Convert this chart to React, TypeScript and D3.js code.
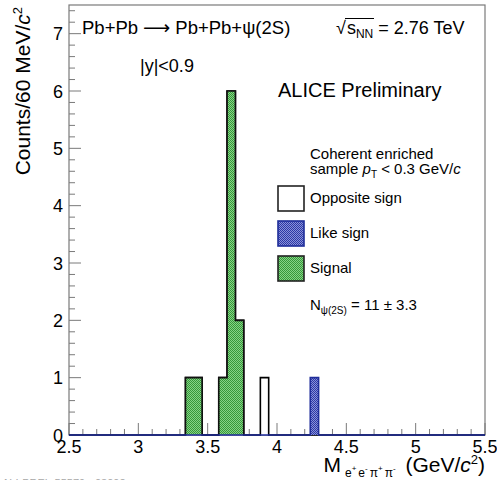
import React from "react";
import * as d3 from "d3";

// ---- data ----
const xDomain = [2.5, 5.5];
const yDomain = [0, 7.5];
const binWidth = 0.06; // 60 MeV/c^2
const oppositeSignBins = [3.34, 3.4, 3.58, 3.64, 3.7, 3.88];
const oppositeSignCounts = [1, 1, 1, 6, 2, 1];
const signalBins = [3.34, 3.4, 3.58, 3.64, 3.7];
const signalCounts = [1, 1, 1, 6, 2];
const likeSignBins = [4.24];
const likeSignCounts = [1];
const xTicks = [2.5, 3, 3.5, 4, 4.5, 5, 5.5];
const yTicks = [0, 1, 2, 3, 4, 5, 6, 7];

const W = 497;
const H = 480;
const M = { left: 69, right: 485, top: 5, bottom: 435 };
const FONT = "'Liberation Sans', Arial, Helvetica, sans-serif";

const x = d3.scaleLinear().domain(xDomain).range([M.left, M.right]);
const y = d3.scaleLinear().domain(yDomain).range([M.bottom, M.top]);

function fullHist(bins: number[], counts: number[], lo: number, hi: number) {
  const n = Math.round((hi - lo) / binWidth);
  const pts: [number, number][] = [];
  for (let i = 0; i < n; i++) {
    const e = lo + i * binWidth;
    const k = bins.findIndex((b) => Math.abs(b - e) < 1e-6);
    pts.push([e, k >= 0 ? counts[k] : 0]);
  }
  pts.push([hi, 0]);
  return pts;
}

const stepLine = d3
  .line<[number, number]>()
  .x((d) => x(d[0]))
  .y((d) => y(d[1]))
  .curve(d3.curveStepAfter);

function histPath(pts: [number, number][]) {
  const withStart: [number, number][] = [[pts[0][0], 0], ...pts];
  return stepLine(withStart) || "";
}

const osHist = fullHist(oppositeSignBins, oppositeSignCounts, xDomain[0], xDomain[1]);
const lsHist = fullHist(likeSignBins, likeSignCounts, xDomain[0], xDomain[1]);
const sigLo = d3.min(signalBins)!;
const sigHi = d3.max(signalBins)! + binWidth;
const sigHist = fullHist(signalBins, signalCounts, sigLo, sigHi);

export default function App() {
  const gray = "#7a7a7a";
  const xMinor = d3.range(25, 56).map((v) => v / 10);
  const yMinor = d3.range(0, 38).map((v) => v / 5);
  return (
    <svg
      width={W}
      height={H}
      style={{ position: "absolute", left: 0, top: 0, background: "#fff" }}
      fontFamily={FONT}
    >
      <defs>
        <pattern id="pg" width="2" height="2" patternUnits="userSpaceOnUse">
          <rect width="2" height="2" fill="#86d486" />
          <rect width="1" height="1" fill="#36973a" />
          <rect x="1" y="1" width="1" height="1" fill="#36973a" />
        </pattern>
        <pattern id="pb" width="2" height="2" patternUnits="userSpaceOnUse">
          <rect width="2" height="2" fill="#8a92d8" />
          <rect width="1" height="1" fill="#2c38a6" />
          <rect x="1" y="1" width="1" height="1" fill="#2c38a6" />
        </pattern>
      </defs>

      {/* frame */}
      <rect
        x={M.left}
        y={M.top}
        width={M.right - M.left}
        height={M.bottom - M.top}
        fill="none"
        stroke={gray}
        strokeWidth={1.2}
      />

      {/* x ticks */}
      {xMinor.map((v, i) => {
        const major = Math.abs(v * 2 - Math.round(v * 2)) < 1e-6;
        return (
          <line
            key={"xm" + i}
            x1={x(v)}
            x2={x(v)}
            y1={M.bottom}
            y2={M.bottom - (major ? 12 : 6)}
            stroke={gray}
            strokeWidth={1}
          />
        );
      })}
      {/* y ticks */}
      {yMinor.map((v, i) => {
        const major = Math.abs(v - Math.round(v)) < 1e-6;
        return (
          <line
            key={"ym" + i}
            x1={M.left}
            x2={M.left + (major ? 12 : 6)}
            y1={y(v)}
            y2={y(v)}
            stroke={gray}
            strokeWidth={1}
          />
        );
      })}

      {/* histograms */}
      <path d={histPath(osHist)} fill="#fff" stroke="#000" strokeWidth={1.6} />
      <path d={histPath(sigHist)} fill="url(#pg)" stroke="#111" strokeWidth={1.6} />
      <path d={histPath(lsHist)} fill="url(#pb)" stroke="#1f2d9a" strokeWidth={1.6} />

      {/* tick labels */}
      {xTicks.map((v) => (
        <text key={"xl" + v} x={x(v)} y={453} fontSize={18} textAnchor="middle" fill="#000">
          {v}
        </text>
      ))}
      {yTicks.map((v) => (
        <text key={"yl" + v} x={63} y={y(v) + 6.5} fontSize={18} textAnchor="end" fill="#000">
          {v}
        </text>
      ))}

      {/* axis titles */}
      <text x={M.right} y={472} fontSize={21} textAnchor="end" fill="#000">
        M
        <tspan fontSize={12} dy={5} dx={4}>e</tspan>
        <tspan fontSize={8} dy={-6}>+</tspan>
        <tspan fontSize={12} dy={6} dx={2}>e</tspan>
        <tspan fontSize={8} dy={-6}>-</tspan>
        <tspan fontSize={12} dy={6} dx={2}>π</tspan>
        <tspan fontSize={8} dy={-6}>+</tspan>
        <tspan fontSize={12} dy={6} dx={2}>π</tspan>
        <tspan fontSize={8} dy={-6}>-</tspan>
        <tspan dy={1} dx={4}> (GeV/</tspan>
        <tspan fontStyle="italic">c</tspan>
        <tspan fontSize={13} dy={-8}>2</tspan>
        <tspan dy={8}>)</tspan>
      </text>
      <text
        transform={`translate(30, ${M.top + 2}) rotate(-90)`}
        fontSize={21}
        textAnchor="end"
        fill="#000"
      >
        Counts/60 MeV/<tspan fontStyle="italic">c</tspan>
        <tspan fontSize={13} dy={-8}>2</tspan>
      </text>

      {/* annotations */}
      <text x={82} y={34} fontSize={18.5} fill="#000">
        Pb+Pb
        <tspan dx={5} fontFamily="'DejaVu Sans', sans-serif" fontSize={19} transform="scale(1.4,1)">
          ⟶
        </tspan>
        <tspan dx={5}>Pb+Pb+ψ(2S)</tspan>
      </text>
      <g fill="#000">
        <text x={336} y={34} fontSize={18}>
          √
          <tspan dx={1}>s</tspan>
          <tspan fontSize={12} dy={4}>NN</tspan>
          <tspan dy={-4}> = 2.76 TeV</tspan>
        </text>
        <line x1={345} x2={374} y1={18.5} y2={18.5} stroke="#000" strokeWidth={1} />
      </g>
      <text x={140} y={72} fontSize={18} fill="#000">
        |y|&lt;0.9
      </text>
      <text x={278} y={97} fontSize={20} fill="#000">
        ALICE Preliminary
      </text>

      {/* legend */}
      <text x={310} y={159} fontSize={15} fill="#000">
        Coherent enriched
      </text>
      <text x={310} y={174} fontSize={15} fill="#000">
        sample <tspan fontStyle="italic">p</tspan>
        <tspan fontSize={10} dy={4}>T</tspan>
        <tspan dy={-4}> &lt; 0.3 GeV/</tspan>
        <tspan fontStyle="italic">c</tspan>
      </text>
      <rect x={278} y={186} width={26} height={25} fill="#fff" stroke="#222" strokeWidth={1.6} />
      <text x={310} y={203} fontSize={15} fill="#000">
        Opposite sign
      </text>
      <rect x={278} y={221} width={26} height={25} fill="url(#pb)" stroke="#1f2d9a" strokeWidth={1.6} />
      <text x={310} y={238} fontSize={15} fill="#000">
        Like sign
      </text>
      <rect x={278} y={256} width={26} height={25} fill="url(#pg)" stroke="#222" strokeWidth={1.6} />
      <text x={310} y={273} fontSize={15} fill="#000">
        Signal
      </text>
      <text x={310} y={310} fontSize={15} fill="#000">
        N<tspan fontSize={10} dy={4}>ψ(2S)</tspan>
        <tspan dy={-4}> = 11 ± 3.3</tspan>
      </text>

      {/* footnote (cut off) */}
      <text x={2} y={487} fontSize={11} fill="#a8a8a8">
        ALI-PREL-55579 - 03092
      </text>
    </svg>
  );
}
